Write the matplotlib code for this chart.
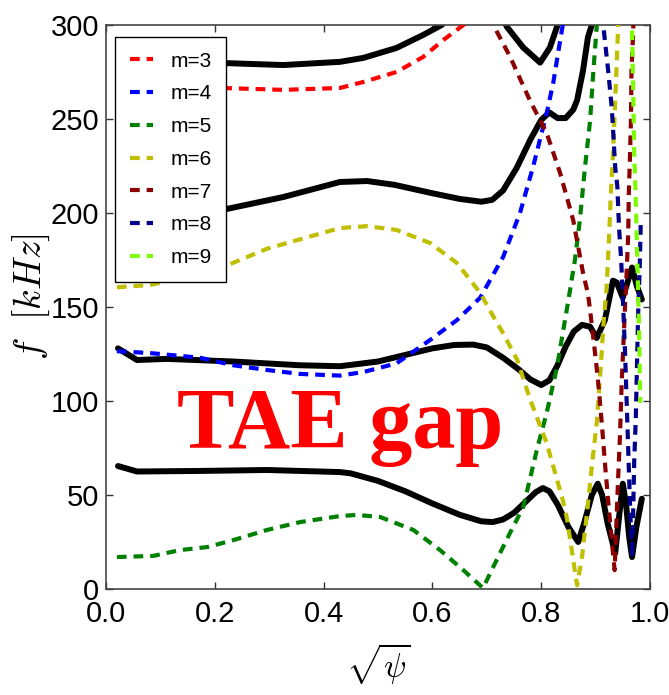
import numpy as np
import matplotlib
matplotlib.use("Agg")
import matplotlib.pyplot as plt

plt.rcParams["mathtext.fontset"] = "cm"
plt.rcParams["lines.scale_dashes"] = False
plt.rcParams["font.family"] = ["Liberation Sans", "DejaVu Sans"]

# ---- Alfven continuum branches, f [kHz] vs sqrt(psi) ----
m_labels = ["m=3", "m=4", "m=5", "m=6", "m=7", "m=8", "m=9"]
m_colors = ["#ff0000", "#0000ff", "#008000", "#bfbf00", "#8b0000", "#00008b", "#7cfc00"]

x_m3 = [0.03, 0.10, 0.213, 0.326, 0.43, 0.473, 0.534, 0.583, 0.62, 0.657, 0.67]
f_m3 = [268, 267.5, 266.5, 265.5, 266.5, 269.7, 275, 283, 292, 300, 304]

x_m4 = [0.02, 0.081, 0.173, 0.234, 0.296, 0.357, 0.43, 0.473, 0.534, 0.596, 0.645,
        0.688, 0.73, 0.761, 0.785, 0.81, 0.822, 0.835, 0.842]
f_m4 = [126.5, 125.5, 123, 119, 116.5, 114.4, 113.5, 115.4, 120, 132.5, 143,
        155, 176.6, 200, 224.5, 253, 269, 292, 304]

x_m5 = [0.02, 0.087, 0.136, 0.186, 0.234, 0.296, 0.357, 0.43, 0.461, 0.504, 0.565,
        0.614, 0.657, 0.693, 0.718, 0.743, 0.767, 0.792, 0.81, 0.829, 0.85, 0.862,
        0.871, 0.88, 0.89, 0.896, 0.902, 0.905]
f_m5 = [17, 17.6, 20.7, 22.3, 26, 31.4, 35.6, 38.8, 39.4, 38.3, 31.4,
        20.7, 10, 0.5, 15.4, 30, 43.6, 74, 93.6, 118, 153.7, 175,
        196, 223, 249.5, 276, 299, 306]

x_m6 = [0.02, 0.081, 0.13, 0.213, 0.296, 0.369, 0.43, 0.48, 0.534, 0.596, 0.645,
        0.688, 0.706, 0.73, 0.756, 0.78, 0.81, 0.84, 0.847, 0.859, 0.866, 0.875,
        0.884, 0.893, 0.898, 0.902, 0.906, 0.911, 0.915, 0.92, 0.922, 0.925, 0.928,
        0.932, 0.935, 0.938, 0.941, 0.943]
f_m6 = [160.5, 161.7, 165, 171, 181, 187, 192, 193, 191, 184, 173.4,
        157.5, 148, 136, 121.8, 100.5, 77.7, 47, 38, 15.4, 2, 17,
        40, 65, 78, 88, 104, 125, 143, 159, 170, 189, 210,
        232, 252, 274, 296, 306]

x_m7 = [0.705, 0.712, 0.743, 0.779, 0.81, 0.835, 0.847, 0.859, 0.868, 0.877, 0.886,
        0.89, 0.898, 0.903, 0.906, 0.912, 0.918, 0.924, 0.93, 0.935, 0.941, 0.945,
        0.948, 0.952, 0.954, 0.957, 0.96, 0.961, 0.963, 0.965, 0.966, 0.969, 0.97]
f_m7 = [305, 300, 283, 260, 242.6, 221, 208.5, 196, 182, 168, 157,
        148, 128, 115, 106, 86, 64, 44, 25, 10, 56, 83,
        110, 136, 150, 168, 189, 210, 228, 250, 276, 296, 305]

x_m8 = [0.912, 0.914, 0.923, 0.93, 0.936, 0.94, 0.943, 0.947, 0.95, 0.954, 0.957,
        0.96, 0.963, 0.967, 0.969, 0.971, 0.974, 0.976, 0.978, 0.981, 0.983]
f_m8 = [306, 300, 276, 255, 224.5, 214, 192.6, 175, 155, 127, 100.5,
        74, 47, 17, 40, 68, 92, 118, 145, 170, 195]

x_m9 = [0.966, 0.967, 0.969, 0.971, 0.974, 0.976, 0.978, 0.98, 0.981, 0.982]
f_m9 = [306, 297, 267, 232, 205, 182, 160, 136, 118, 99]

# ---- full continuum (black) ----
x_c1 = [0.022, 0.057, 0.173, 0.296, 0.43, 0.45, 0.5, 0.55, 0.6, 0.65, 0.69, 0.711,
        0.73, 0.75, 0.77, 0.79, 0.803, 0.815, 0.83, 0.85, 0.868, 0.88, 0.893,
        0.904, 0.912, 0.922, 0.936, 0.943, 0.95, 0.956, 0.962, 0.967, 0.975, 0.985]
f_c1 = [65.4, 62.5, 62.8, 63.3, 62.2, 61.5, 57.5, 52, 45.5, 39.5, 36, 35.6,
        37, 40.5, 46, 51.5, 53.7, 52, 45, 33, 25, 36, 50,
        56, 50, 35, 19, 38, 56, 45, 27, 17, 33, 48]

x_c2 = [0.022, 0.057, 0.112, 0.234, 0.357, 0.43, 0.5, 0.55, 0.6, 0.64, 0.675, 0.7,
        0.73, 0.76, 0.78, 0.8, 0.815, 0.83, 0.845, 0.86, 0.875, 0.89, 0.902,
        0.917, 0.932, 0.939, 0.95, 0.967, 0.976, 0.985]
f_c2 = [128, 121.8, 122.4, 121, 119, 118.5, 121, 124.5, 128, 129.8, 130, 128.5,
        123, 116.5, 111.5, 108.5, 111, 119, 129, 137, 140.5, 139.5, 133.5,
        143, 164, 163, 155, 171, 161, 154]

x_c3 = [0.035, 0.1, 0.213, 0.326, 0.43, 0.48, 0.53, 0.6, 0.65, 0.69, 0.71, 0.73,
        0.755, 0.78, 0.8, 0.815, 0.83, 0.845, 0.859, 0.866, 0.877, 0.886, 0.893,
        0.897]
f_c3 = [196, 197.5, 201.6, 208.5, 216.5, 217, 215, 210.5, 207.5, 206, 207, 212,
        224, 239, 249.5, 253.5, 250.5, 250.5, 255, 260, 276, 293.6, 300,
        306]

x_c4 = [0.035, 0.1, 0.213, 0.326, 0.43, 0.473, 0.534, 0.583, 0.617, 0.63, np.nan,
        0.725, 0.737, 0.767, 0.798, 0.816, 0.829, 0.835]
f_c4 = [283.5, 281.5, 279.8, 278.7, 280.4, 282.5, 287.8, 294.7, 300, 304, np.nan,
        306, 299, 288, 280, 288, 299, 306]

branches_x = [x_m3, x_m4, x_m5, x_m6, x_m7, x_m8, x_m9]
branches_f = [f_m3, f_m4, f_m5, f_m6, f_m7, f_m8, f_m9]
continuum = [(x_c1, f_c1), (x_c2, f_c2), (x_c3, f_c3), (x_c4, f_c4)]

fig = plt.figure(figsize=(6.69, 6.95), dpi=100)
ax = fig.add_axes([106 / 669, 106 / 695, 544 / 669, 564 / 695])

for xs, fs in continuum:
    ax.plot(xs, fs, color="black", lw=4.3, solid_capstyle="round",
            solid_joinstyle="round", zorder=2)

for xs, fs, c, lab in zip(branches_x, branches_f, m_colors, m_labels):
    ax.plot(xs, fs, color=c, lw=3.0, linestyle=(0, (7, 5)), label=lab, zorder=3)

ax.set_xlim(0, 1.0)
ax.set_ylim(0, 300)
ax.set_xticks(np.arange(0, 1.01, 0.2))
ax.set_yticks(np.arange(0, 301, 50))
ax.tick_params(direction="in", top=True, right=True, length=5, width=1,
               labelsize=21, color="#333333")
ax.tick_params(axis="x", pad=8)
ax.tick_params(axis="y", pad=5)
for s in ax.spines.values():
    s.set_color("#444444")
    s.set_linewidth(1.2)

ax.set_xlabel(r"$\sqrt{\psi}$", fontsize=24, labelpad=10)
ax.set_ylabel(r"$f\ \ [kHz]$", fontsize=27)
ax.yaxis.set_label_coords(-0.1, 0.518)

ax.text(0.13, 75, "TAE gap", color="red", fontsize=62, fontweight="bold",
        family="Liberation Serif", ha="left", va="baseline", zorder=5)

leg = ax.legend(loc="upper left", bbox_to_anchor=(9 / 544, 1 - 12 / 564),
                borderaxespad=0, handlelength=1.1, handletextpad=0.85,
                prop={"family": "Liberation Sans", "size": 15},
                fancybox=False, framealpha=1, edgecolor="black",
                labelspacing=0.66, borderpad=0.7)
leg.get_frame().set_linewidth(1.0)
leg.set_zorder(6)

fig.savefig("out.png", dpi=100)
